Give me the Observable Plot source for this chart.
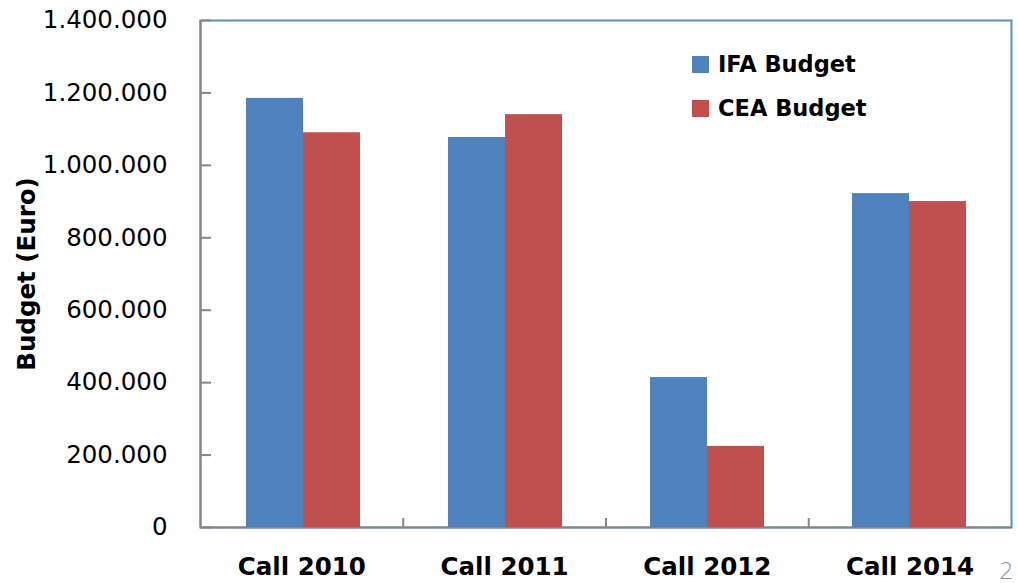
<!DOCTYPE html>
<html><head><meta charset="utf-8">
<script src="https://cdn.jsdelivr.net/npm/d3@7"></script>
<script src="https://cdn.jsdelivr.net/npm/@observablehq/plot@0.6"></script>
<style>
body{margin:0;background:#fff;}
#wrap{position:relative;width:1018px;height:583px;font-family:"DejaVu Sans",sans-serif;overflow:hidden;}
#wrap svg{position:absolute;left:0;top:0;}
.legend{position:absolute;left:692px;top:42px;font-weight:bold;font-size:22.5px;color:#000;}
.legend .row{display:flex;align-items:center;height:44px;}
.sw{width:17px;height:17px;margin-right:9px;}
.page{position:absolute;left:999px;top:560px;font-size:23px;font-weight:200;color:#8c8c8c;line-height:1;}
</style></head><body><div id="wrap"></div>
<script>
const categories = ["Call 2010", "Call 2011", "Call 2012", "Call 2014"];
const series = ["IFA Budget", "CEA Budget"];
const ifaBudget = [1185000, 1077000, 414000, 922000];
const ceaBudget = [1090000, 1140000, 224000, 900000];
const yTicks = [0, 200000, 400000, 600000, 800000, 1000000, 1200000, 1400000];
const colors = ["#4F81BD", "#C0504D"];
const pageNumber = "2";

const data = categories.flatMap((c, i) => [
  {category: c, series: series[0], value: ifaBudget[i]},
  {category: c, series: series[1], value: ceaBudget[i]}
]);
const fmt = d => d3.format(",")(d).replace(/,/g, ".");
const font = "'DejaVu Sans', sans-serif";
const common = {
  width: 1018, height: 583,
  marginLeft: 200, marginRight: 7, marginTop: 20, marginBottom: 56,
  style: {fontFamily: font, color: "#000", background: "transparent", overflow: "visible"}
};

const base = Plot.plot({
  ...common,
  x: {domain: [0, categories.length], axis: null},
  y: {domain: [0, 1400000], axis: null},
  marks: [
    Plot.frame({stroke: "#5B8BC8", strokeWidth: 2}),
    Plot.ruleY([0], {stroke: "#868686", strokeWidth: 2}),
    Plot.ruleX([0], {stroke: "#868686", strokeWidth: 2}),
    Plot.axisY({ticks: yTicks, tickFormat: fmt, tickSize: 0, tickPadding: 33, label: null, fontSize: 24.5}),
    Plot.axisY({ticks: yTicks, anchor: "right", frameAnchor: "left", tickSize: 10, fill: "none", label: null, stroke: "#868686", strokeWidth: 2}),
    Plot.axisX({ticks: d3.range(1, categories.length), anchor: "top", frameAnchor: "bottom", tickSize: 10, fill: "none", label: null, stroke: "#868686", strokeWidth: 2}),
    Plot.axisX({ticks: categories.map((c, i) => i + 0.5), tickFormat: v => categories[Math.floor(v)], tickSize: 0, tickPadding: 30, fontWeight: "bold", fontSize: 24.5, label: null}),
    Plot.text(["Budget (Euro)"], {frameAnchor: "left", textAnchor: "middle", rotate: -90, dx: -173, fontWeight: "bold", fontSize: 24.5})
  ]
});

const bars = Plot.plot({
  ...common,
  fx: {domain: categories, paddingInner: 0.43, paddingOuter: 0.215, axis: null, label: null},
  x: {domain: series, padding: 0, axis: null},
  y: {domain: [0, 1400000], axis: null},
  color: {domain: series, range: colors},
  marks: [
    Plot.barY(data, {fx: "category", x: "series", y: "value", fill: "series"})
  ]
});

const wrap = document.getElementById("wrap");
wrap.appendChild(base);
wrap.appendChild(bars);

const legend = document.createElement("div");
legend.className = "legend";
series.forEach((s, i) => {
  const row = document.createElement("div");
  row.className = "row";
  const sw = document.createElement("div");
  sw.className = "sw";
  sw.style.background = colors[i];
  const t = document.createElement("span");
  t.textContent = s;
  row.appendChild(sw); row.appendChild(t);
  legend.appendChild(row);
});
wrap.appendChild(legend);

const page = document.createElement("div");
page.className = "page";
page.textContent = pageNumber;
wrap.appendChild(page);
</script>
</body></html>
